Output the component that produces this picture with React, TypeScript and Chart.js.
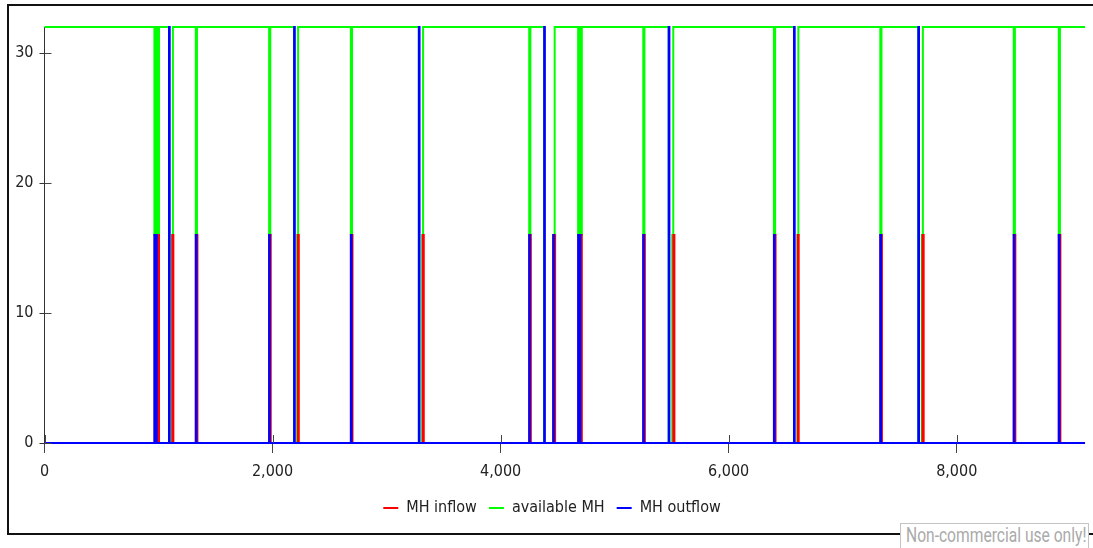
import React, { useEffect, useRef } from "react";
import { Chart, registerables } from "chart.js";

Chart.register(...registerables);

// ---- data ----
const seriesNames = ["MH inflow", "available MH", "MH outflow"];
const seriesColors = ["#ff0000", "#00ff00", "#0000ff"];

const xTickValues = [0, 2000, 4000, 6000, 8000];
const yTickValues = [0, 10, 20, 30];
const xAxisMax = 9195;
const yAxisMax = 32;

// MH inflow: change points (time, value after the change)
const inflowTimes = [0, 966, 974, 982, 990, 994, 1004, 1122, 1130, 1327, 1341, 1970, 1984, 2222, 2230, 2687, 2701, 3318, 3326, 4251, 4265, 4462, 4478, 4682, 4690, 4696, 4712, 5251, 5265, 5515, 5524, 6397, 6411, 6606, 6614, 7330, 7344, 7700, 7710, 8500, 8514, 8895, 8909, 9125];
const inflowValues = [0, 16, 0, 16, 0, 16, 0, 16, 0, 16, 0, 16, 0, 16, 0, 16, 0, 16, 0, 16, 0, 16, 0, 16, 0, 16, 0, 16, 0, 16, 0, 16, 0, 16, 0, 16, 0, 16, 0, 16, 0, 16, 0, 0];

// available MH
const availableTimes = [0, 964, 972, 980, 988, 996, 1004, 1092, 1118, 1126, 1327, 1337, 1970, 1980, 2189, 2216, 2224, 2687, 2697, 3283, 3312, 3320, 4251, 4261, 4382, 4462, 4474, 4680, 4688, 4692, 4700, 4704, 4712, 5251, 5261, 5474, 5505, 5514, 6397, 6407, 6573, 6603, 6611, 7330, 7340, 7663, 7694, 7703, 8500, 8510, 8895, 8905, 9125];
const availableValues = [32, 16, 32, 16, 32, 16, 32, 0, 16, 32, 16, 32, 16, 32, 0, 16, 32, 16, 32, 0, 16, 32, 16, 32, 0, 16, 32, 16, 32, 16, 32, 16, 32, 16, 32, 0, 16, 32, 16, 32, 0, 16, 32, 16, 32, 0, 16, 32, 16, 32, 16, 32, 32];

// MH outflow
const outflowTimes = [0, 964, 970, 978, 984, 1092, 1098, 1327, 1333, 1970, 1976, 2189, 2195, 2687, 2693, 3283, 3289, 4251, 4257, 4382, 4388, 4462, 4468, 4680, 4686, 4694, 4700, 5251, 5257, 5474, 5480, 6397, 6403, 6573, 6579, 7330, 7336, 7663, 7669, 8500, 8506, 8895, 8901, 9125];
const outflowValues = [0, 16, 0, 16, 0, 32, 0, 16, 0, 16, 0, 32, 0, 16, 0, 32, 0, 16, 0, 32, 0, 16, 0, 16, 0, 16, 0, 16, 0, 32, 0, 16, 0, 32, 0, 16, 0, 32, 0, 16, 0, 16, 0, 0];

const FONT = "'DejaVu Sans Condensed', 'DejaVu Sans', sans-serif";

function toPoints(times: number[], values: number[]) {
  return times.map((t, i) => ({ x: t, y: values[i] }));
}

const innerTicks = {
  id: "innerTicks",
  afterDraw(chart: any) {
    const ctx = chart.ctx;
    const xs = chart.scales.x;
    const ys = chart.scales.y;
    ctx.save();
    ctx.strokeStyle = "#444";
    ctx.lineWidth = 1;
    ctx.beginPath();
    xs.ticks.forEach((t: any) => {
      const px = Math.round(xs.getPixelForValue(t.value)) + 0.5;
      ctx.moveTo(px, xs.top);
      ctx.lineTo(px, xs.top - 8);
    });
    ys.ticks.forEach((t: any) => {
      const py = Math.round(ys.getPixelForValue(t.value)) + 0.5;
      ctx.moveTo(ys.right, py);
      ctx.lineTo(ys.right + 7, py);
    });
    ctx.stroke();
    ctx.restore();
  },
};

export default function App() {
  const canvasRef = useRef<HTMLCanvasElement | null>(null);

  useEffect(() => {
    if (!canvasRef.current) return;
    const tickFont = { family: FONT, size: 16 };
    const datasets = [
      { label: seriesNames[0], data: toPoints(inflowTimes, inflowValues), borderColor: seriesColors[0], backgroundColor: seriesColors[0], order: 1 },
      { label: seriesNames[1], data: toPoints(availableTimes, availableValues), borderColor: seriesColors[1], backgroundColor: seriesColors[1], order: 2 },
      { label: seriesNames[2], data: toPoints(outflowTimes, outflowValues), borderColor: seriesColors[2], backgroundColor: seriesColors[2], order: 0 },
    ].map((d) => ({
      ...d,
      stepped: true as const,
      fill: false,
      borderWidth: 2,
      pointRadius: 0,
      pointHoverRadius: 0,
      clip: false as any,
    }));

    const chart = new Chart(canvasRef.current, {
      type: "line",
      data: { datasets },
      plugins: [innerTicks],
      options: {
        animation: false,
        responsive: false,
        maintainAspectRatio: false,
        layout: { padding: { left: 11, right: 0, top: 27, bottom: 22 } },
        plugins: {
          legend: {
            position: "bottom",
            labels: {
              usePointStyle: true,
              pointStyle: "line",
              pointStyleWidth: 15,
              padding: 12,
              color: "#222",
              font: { family: FONT, size: 16 },
              sort: (a: any, b: any) => a.datasetIndex - b.datasetIndex,
            },
          },
          tooltip: { enabled: false },
        },
        scales: {
          x: {
            type: "linear",
            min: 0,
            max: xAxisMax,
            afterBuildTicks: (scale: any) => {
              scale.ticks = xTickValues.map((v) => ({ value: v }));
            },
            afterFit: (scale: any) => {
              scale.height = 45;
            },
            grid: { display: true, drawOnChartArea: false, drawTicks: true, tickLength: 10, tickColor: "#444", tickWidth: 1 },
            border: { display: false },
            ticks: {
              font: tickFont,
              color: "#222",
              padding: 9,
              maxRotation: 0,
              autoSkip: false,
              callback: (v: any) => Number(v).toLocaleString("en-US"),
            },
          },
          y: {
            type: "linear",
            min: 0,
            max: yAxisMax,
            afterBuildTicks: (scale: any) => {
              scale.ticks = yTickValues.map((v) => ({ value: v }));
            },
            afterFit: (scale: any) => {
              scale.width = 33.5;
            },
            grid: { display: true, drawOnChartArea: false, drawTicks: true, tickLength: 5, tickColor: "#333", tickWidth: 1 },
            border: { display: true, color: "#333", width: 1 },
            ticks: { font: tickFont, color: "#222", padding: 6, autoSkip: false },
          },
        },
      } as any,
    });
    return () => chart.destroy();
  }, []);

  return (
    <div style={{ position: "absolute", left: 0, top: 0, width: 1093, height: 548, overflow: "hidden", background: "#fff" }}>
      <div style={{ position: "absolute", left: 7, top: 4, width: 1100, height: 527, border: "2px solid #111" }} />
      <canvas ref={canvasRef} width={1093} height={548} style={{ position: "absolute", left: 0, top: 0, display: "block" }} />
      <div
        style={{
          position: "absolute",
          left: 900,
          top: 523,
          width: 189,
          height: 30,
          border: "1px solid #c4c4c4",
          background: "#fff",
          boxSizing: "border-box",
          overflow: "hidden",
        }}
      >
        <div
          style={{
            position: "absolute",
            left: 5,
            top: 0,
            color: "#aaa",
            fontFamily: "Roboto, sans-serif",
            fontSize: 20,
            lineHeight: "23px",
            whiteSpace: "nowrap",
            transform: "scaleX(0.78)",
            transformOrigin: "left top",
          }}
        >
          Non-commercial use only!
        </div>
      </div>
    </div>
  );
}
